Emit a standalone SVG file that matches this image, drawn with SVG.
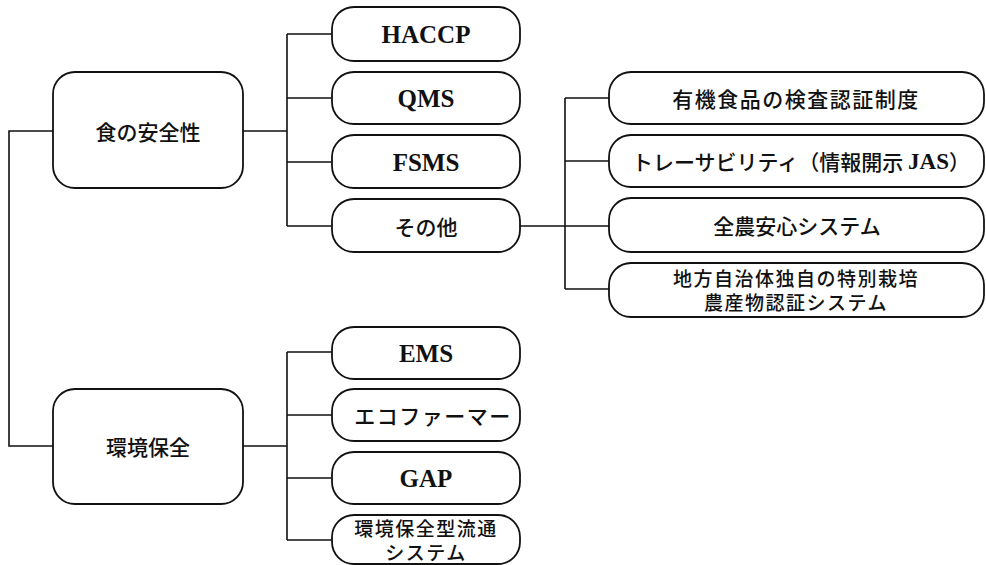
<svg xmlns="http://www.w3.org/2000/svg" width="986" height="565" viewBox="0 0 986 565">
<style>
.box{fill:#fff;stroke:#111;stroke-width:1.8}
.ln{fill:none;stroke:#111;stroke-width:1.6}
.jp{font-family:"Noto Sans CJK JP","Noto Sans",sans-serif;font-size:21px;font-weight:500;fill:#111;text-anchor:middle;dominant-baseline:central}
.jp2{font-size:19px}
.en{font-family:"Liberation Serif",serif;font-weight:bold;font-size:25px;fill:#111;text-anchor:middle;dominant-baseline:central}
.ens{font-family:"Liberation Serif",serif;font-weight:bold;font-size:23px}
</style>
<rect width="986" height="565" fill="#fff"/>
<g id="connectors">
<path class="ln" d="M53,131 H9 V446 H53"/>
<path class="ln" d="M243,131 H287 M287,34 V226 M287,34 H332 M287,98 H332 M287,162 H332 M287,226 H332"/>
<path class="ln" d="M520,226 H609 M565,98 V289 M565,98 H609 M565,161 H609 M565,289 H609"/>
<path class="ln" d="M243,446 H287 M287,352 V540 M287,352 H332 M287,415 H332 M287,478 H332 M287,540 H332"/>
</g>
<g id="n-food"><rect class="box" x="53" y="72" width="190" height="116" rx="22"/><text class="jp" x="148" y="131">食の安全性</text></g>
<g id="n-env"><rect class="box" x="53" y="389" width="190" height="115" rx="22"/><text class="jp" x="148" y="446">環境保全</text></g>
<g id="n-haccp"><rect class="box" x="332" y="7" width="188" height="54" rx="22"/><text class="en" x="426" y="34">HACCP</text></g>
<g id="n-qms"><rect class="box" x="332" y="72" width="188" height="52" rx="22"/><text class="en" x="426" y="98">QMS</text></g>
<g id="n-fsms"><rect class="box" x="332" y="135" width="188" height="53" rx="22"/><text class="en" x="426" y="162">FSMS</text></g>
<g id="n-other"><rect class="box" x="332" y="199" width="188" height="53" rx="22"/><text class="jp" x="426" y="226">その他</text></g>
<g id="n-organic"><rect class="box" x="609" y="72" width="375" height="52" rx="22"/><text class="jp" x="796" y="98" letter-spacing="1.5">有機食品の検査認証制度</text></g>
<g id="n-trace"><rect class="box" x="609" y="135" width="375" height="52" rx="22"/><text class="jp" x="801" y="161">トレーサビリティ（情報開示 <tspan class="ens">JAS</tspan>）</text></g>
<g id="n-zennoh"><rect class="box" x="609" y="198" width="375" height="54" rx="22"/><text class="jp" x="797" y="225">全農安心システム</text></g>
<g id="n-local"><rect class="box" x="609" y="263" width="375" height="54" rx="22"/><text class="jp jp2" x="796" y="277" letter-spacing="1.5">地方自治体独自の特別栽培</text><text class="jp jp2" x="796" y="301" letter-spacing="1.5">農産物認証システム</text></g>
<g id="n-ems"><rect class="box" x="332" y="327" width="188" height="52" rx="22"/><text class="en" x="426" y="353">EMS</text></g>
<g id="n-eco"><rect class="box" x="332" y="389" width="188" height="52" rx="22"/><text class="jp" x="433" y="415" letter-spacing="1.5">エコファーマー</text></g>
<g id="n-gap"><rect class="box" x="332" y="452" width="188" height="52" rx="22"/><text class="en" x="426" y="478">GAP</text></g>
<g id="n-dist"><rect class="box" x="332" y="515" width="188" height="49" rx="22"/><text class="jp jp2" x="426" y="527" letter-spacing="1.5">環境保全型流通</text><text class="jp jp2" x="426" y="551" letter-spacing="1.5">システム</text></g>
</svg>
